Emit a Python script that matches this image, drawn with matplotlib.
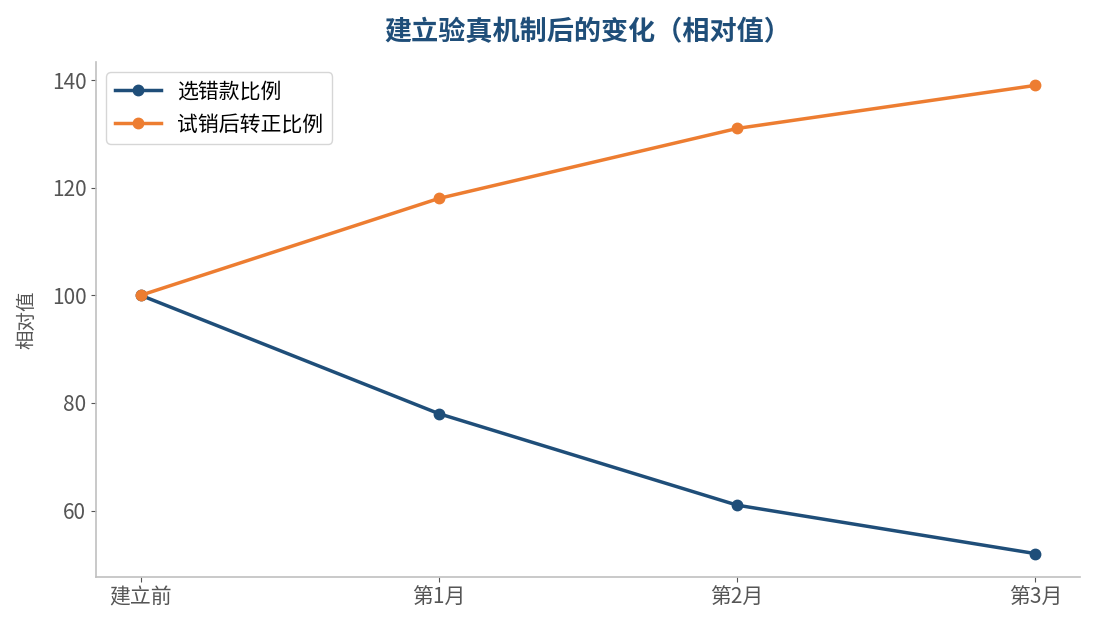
import matplotlib
matplotlib.use("Agg")
import matplotlib.pyplot as plt

plt.rcParams['font.family'] = ['Noto Sans CJK SC', 'DejaVu Sans']

stages = ['建立前', '第1月', '第2月', '第3月']
pick_wrong = [100, 78, 61, 52]
trial_convert = [100, 118, 131, 139]


def main():
    fig = plt.figure(figsize=(10.95, 6.3), dpi=100)
    ax = fig.add_axes([96 / 1095, 1 - 577 / 630, (1080 - 96) / 1095, (577 - 62) / 630])

    ax.plot(stages, pick_wrong, color='#1f4e79', linewidth=2.5, marker='o',
            markersize=7.5, label='选错款比例')
    ax.plot(stages, trial_convert, color='#ed7d31', linewidth=2.5, marker='o',
            markersize=7.5, label='试销后转正比例')

    ax.set_yticks([60, 80, 100, 120, 140])
    ax.set_ylabel('相对值', fontsize=14, color='#555555', labelpad=10)
    ax.set_title('建立验真机制后的变化（相对值）', fontsize=19.5, fontweight='bold',
                 color='#1f4e79', pad=16)

    for s in ['top', 'right']:
        ax.spines[s].set_visible(False)
    for s in ['left', 'bottom']:
        ax.spines[s].set_color('#c0c0c0')
        ax.spines[s].set_linewidth(1.2)
    ax.tick_params(colors='#555555', labelsize=15)

    leg = ax.legend(loc='upper left', fontsize=15, frameon=True, handlelength=2.2)
    leg.get_frame().set_edgecolor('#cccccc')

    fig.savefig('out.png', dpi=100)


if __name__ == "__main__":
    main()
